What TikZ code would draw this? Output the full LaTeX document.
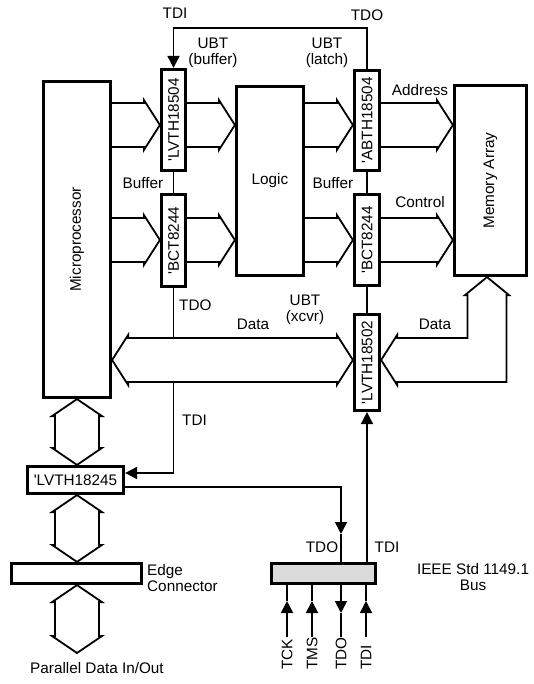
\documentclass[tikz,border=0pt]{standalone}
\usepackage{fontspec}
\setmainfont{Liberation Sans}
\usepackage{graphicx}
\usetikzlibrary{arrows.meta,calc}
\newcommand\chipq{\textquotesingle}
\newcommand\busR[2]{\draw[wire] let \p1=#1,\p2=#2 in (\x1,\y2+22pt) -- (\x2-16pt,\y2+22pt) -- (\x2-16pt,\y2+25pt) -- (\p2) -- (\x2-16pt,\y2-25pt) -- (\x2-16pt,\y2-22pt) -- (\x1,\y2-22pt);}
\newcommand\busLR[2]{\draw[wire] let \p1=#1,\p2=#2 in (\x1+16pt,\y1+22pt) -- (\x2-16pt,\y1+22pt) -- (\x2-16pt,\y1+25pt) -- (\x2,\y1) -- (\x2-16pt,\y1-25pt) -- (\x2-16pt,\y1-22pt) -- (\x1+16pt,\y1-22pt) -- (\x1+16pt,\y1-25pt) -- (\p1) -- (\x1+16pt,\y1+25pt) -- cycle;}
\newcommand\busUD[2]{\draw[wire] let \p1=#1,\p2=#2 in (\x1-22pt,\y1-17pt) -- (\x1-22pt,\y2+17pt) -- (\x1-25pt,\y2+17pt) -- (\x1,\y2) -- (\x1+25pt,\y2+17pt) -- (\x1+22pt,\y2+17pt) -- (\x1+22pt,\y1-17pt) -- (\x1+25pt,\y1-17pt) -- (\p1) -- (\x1-25pt,\y1-17pt) -- cycle;}
\begin{document}
\begin{tikzpicture}[x=1pt,y=-1pt,
  every node/.style={font=\fontsize{15.3}{16}\selectfont,inner sep=0pt},
  box/.style={draw,line width=3.2pt,inner sep=0pt},
  wire/.style={line width=1.8pt,line join=miter},
  tip/.style={-{Triangle[length=12pt,width=12pt]}}]
\useasboundingbox (0,0) rectangle (534,684);
% blocks
\node[box,minimum width=67,minimum height=316] (micro) at (77,239.5) {\rotatebox{90}{Microprocessor}};
\node[box,minimum width=67,minimum height=189] (logic) at (270,181) {Logic};
\node[box,minimum width=72,minimum height=190] (mem) at (490.5,180.5) {\rotatebox{90}{Memory Array}};
\node[box,minimum width=24,minimum height=101] (c1) at (173.5,120) {\rotatebox{90}{\chipq LVTH18504}};
\node[box,minimum width=24,minimum height=92] (c2) at (173.5,240.5) {\rotatebox{90}{\chipq BCT8244}};
\node[box,minimum width=25,minimum height=100] (c3) at (367,120.5) {\rotatebox{90}{\chipq ABTH18504}};
\node[box,minimum width=25,minimum height=91] (c4) at (367,240) {\rotatebox{90}{\chipq BCT8244}};
\node[box,minimum width=25,minimum height=96] (c5) at (367,362.5) {\rotatebox{90}{\chipq LVTH18502}};
\node[box,minimum width=96,minimum height=27] (c6) at (75.5,480) {\chipq LVTH18245};
\node[box,minimum width=130,minimum height=20] (edge) at (76.5,573.5) {};
\node[box,fill=black!14,minimum width=104,minimum height=20] (ieee) at (323.5,573.5) {};
% buses
\busR{(micro.east)}{(c1.west |- 0,125)}
\busR{(c1.east)}{(logic.west |- 0,125)}
\busR{(logic.east)}{(c3.west |- 0,125)}
\busR{(c3.east)}{(mem.west |- 0,125)}
\busR{(micro.east)}{(c2.west |- 0,240)}
\busR{(c2.east)}{(logic.west |- 0,240)}
\busR{(logic.east)}{(c4.west |- 0,240)}
\busR{(c4.east)}{(mem.west |- 0,240)}
\busLR{(micro.east |- 0,360)}{(c5.west |- 0,360)}
\path (mem.south) ++(-3.5,0) coordinate (mtip);
\draw[wire] let \p1=(c5.east |- 0,360), \p2=(mtip) in
  (\x2-19.5pt,\y2-18pt) -- (\x2-19.5pt,\y1+22pt) -- (\x1+16pt,\y1+22pt) -- (\x1+16pt,\y1+25pt) -- (\p1)
  -- (\x1+16pt,\y1-25pt) -- (\x1+16pt,\y1-22pt) -- (\x2+19.5pt,\y1-22pt) -- (\x2+19.5pt,\y2-18pt)
  -- (\x2+22pt,\y2-18pt) -- (\p2) -- (\x2-22pt,\y2-18pt) -- cycle;
\coordinate (ptip) at (77,653);
\busUD{(micro.south)}{(c6.north)}
\busUD{(c6.south -| micro.south)}{(edge.north)}
\busUD{(edge.south -| micro.south)}{(ptip)}
% scan wires
\draw[wire,tip] (c3.north) |- (c1.north |- 0,28) -- (c1.north);
\draw[wire] (c1.south) -- (c2.north);
\draw[wire] (c3.south) -- (c4.north);
\draw[wire] (c4.south) -- (c5.north);
\draw[wire] (c2.south) -- (c2.south |- 0,338);
\draw[wire,tip] (c2.south |- 0,382) |- (c6.east |- 0,473);
\coordinate (tdoarr) at (341,534);
\draw[wire,tip] (c6.east |- 0,487) -| (tdoarr);
\draw[wire] (tdoarr) -- (tdoarr |- ieee.north);
\draw[wire,tip] (ieee.north -| c5.south) -- (c5.south);
% bus pins
\foreach \px/\nm/\dir in {287/TCK/up,312/TMS/up,341/TDO/down,366/TDI/up}{
  \coordinate (pin\nm) at (\px,637);
  \ifnum\pdfstrcmp{\dir}{up}=0
    \draw[wire,tip] (pin\nm) -- (pin\nm |- 0,601);
    \draw[wire] (pin\nm |- 0,601) -- (pin\nm |- ieee.south);
  \else
    \draw[wire,tip] (pin\nm |- ieee.south) -- (pin\nm |- 0,613);
    \draw[wire] (pin\nm |- 0,613) -- (pin\nm);
  \fi
  \node[rotate=90,anchor=west] (lab\nm) at (\px,670) {\nm};
}
% labels
\node (ltdi) at (175,13) {TDI};
\node (ltdo) at (367,15) {TDO};
\node[align=center] (lubt1) at (213,53) {UBT\\(buffer)};
\node[align=center] (lubt2) at (327,53) {UBT\\(latch)};
\node (lbuf1) at (143,183) {Buffer};
\node (lbuf2) at (333,183) {Buffer};
\node (laddr) at (420,90) {Address};
\node (lctrl) at (420,202) {Control};
\node[anchor=west] (ltdo2) at (179,305) {TDO};
\node[anchor=west] (ltdi2) at (182,420) {TDI};
\node (ldata1) at (253,324) {Data};
\node[align=center] (lubt3) at (305,310) {UBT\\(xcvr)};
\node (ldata2) at (435,324) {Data};
\node (ltdo3) at (322,547) {TDO};
\node (ltdi3) at (387,547) {TDI};
\node[align=center] (lieee) at (473,577) {IEEE Std 1149.1\\Bus};
\node[align=left,anchor=west] (ledge) at (147,578) {Edge\\Connector};
\node (lpar) at (97,668) {Parallel Data In/Out};
\end{tikzpicture}
\end{document}
